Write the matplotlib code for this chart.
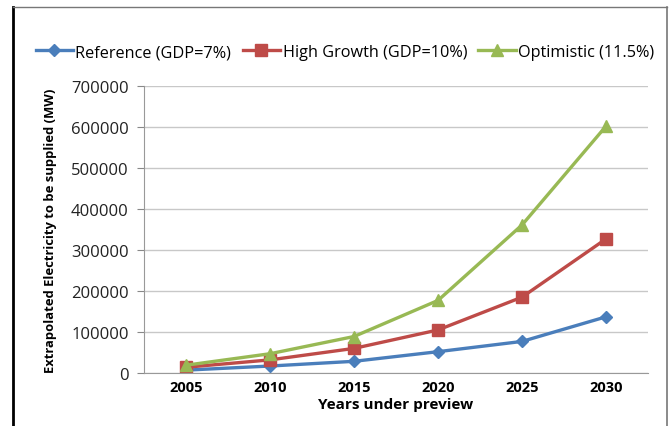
import numpy as np
import matplotlib.pyplot as plt
from matplotlib.lines import Line2D

years = ['2005', '2010', '2015', '2020', '2025', '2030']
reference = [7000, 17000, 28500, 52000, 77000, 137000]
high_growth = [14000, 32000, 60000, 105000, 185000, 327000]
optimistic = [19000, 47000, 89000, 177000, 361000, 602000]

plt.rcParams['font.family'] = ['Open Sans', 'DejaVu Sans']

W, H = 672, 427
fig = plt.figure(figsize=(W / 100, H / 100), dpi=100)
ax = fig.add_axes((144 / W, 1 - 374 / H, (648 - 144) / W, (374 - 87) / H))

x = np.arange(len(years))
ax.plot(x, reference, '-D', color='#4A7EBB', lw=2.4, ms=6,
        label='Reference (GDP=7%)')
ax.plot(x, high_growth, '-s', color='#BE4B48', lw=2.4, ms=8,
        label='High Growth (GDP=10%)')
ax.plot(x, optimistic, '-^', color='#98B954', lw=2.4, ms=8,
        label='Optimistic (11.5%)')

ax.set_xlim(-0.5, len(years) - 0.5)
ax.set_ylim(0, 700000)
ax.set_yticks(np.arange(0, 700001, 100000))
ax.set_xticks(x)
ax.set_xticklabels(years, fontweight='bold', fontsize=10.5)
ax.tick_params(axis='x', length=0, pad=5)
ax.tick_params(axis='y', length=5, color='#888888', labelsize=12,
               labelcolor='#222222', pad=6)
ax.yaxis.grid(True, color='#c8c8c8', lw=1)
ax.set_axisbelow(True)
for s in ('top', 'right'):
    ax.spines[s].set_visible(False)
for s in ('left', 'bottom'):
    ax.spines[s].set_color('#999999')

ax.set_xlabel('Years under preview', fontweight='bold', fontsize=11,
              labelpad=2)
ax.set_ylabel('Extrapolated Electricity to be supplied (MW)',
              fontweight='bold', fontsize=9.4, labelpad=10)

fig.legend(loc='center', bbox_to_anchor=(345 / W, 1 - 53 / H), ncol=3,
           frameon=False, fontsize=11.7, handlelength=2.3, columnspacing=0.7,
           handletextpad=0.15)

# outer frame
fig.add_artist(Line2D([13 / W, 13 / W], [0, 1 - 8 / H], color='black', lw=2))
fig.add_artist(Line2D([13 / W, 667 / W], [1 - 8 / H, 1 - 8 / H],
                      color='#777777', lw=1))
fig.add_artist(Line2D([667 / W, 667 / W], [0, 1 - 8 / H],
                      color='#777777', lw=1.2))

fig.savefig('out.png', dpi=100)
